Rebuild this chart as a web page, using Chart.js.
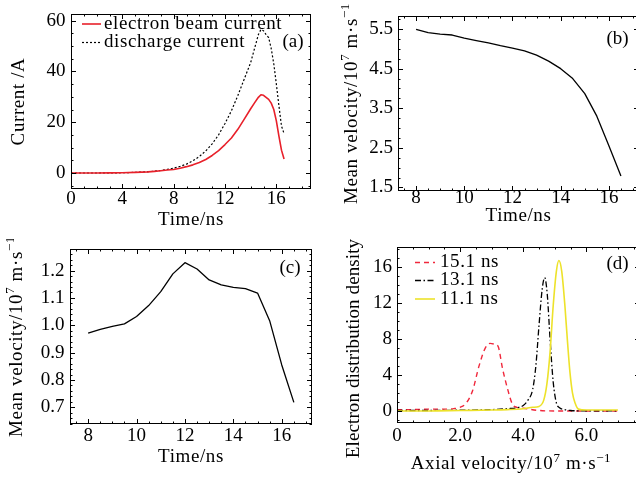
<!DOCTYPE html>
<html>
<head>
<meta charset="utf-8">
<script src="https://cdn.jsdelivr.net/npm/chart.js@4.4.1/dist/chart.umd.min.js"></script>
<style>
  html, body { margin: 0; padding: 0; background: #fff; overflow: hidden; }
  #fig { position: relative; width: 636px; height: 478px; }
  .quad { position: absolute; width: 318px; height: 239px; overflow: hidden; }
  .quad canvas { position: absolute; left: 0; top: 0; }
</style>
</head>
<body>
<div id="fig">
  <div class="quad" style="left:0;top:0"><canvas id="pa" width="318" height="239"></canvas></div>
  <div class="quad" style="left:318px;top:0"><canvas id="pb" width="330" height="239"></canvas></div>
  <div class="quad" style="left:0;top:239px"><canvas id="pc" width="318" height="239"></canvas></div>
  <div class="quad" style="left:318px;top:239px"><canvas id="pd" width="330" height="239"></canvas></div>
</div>
<script>
// (a) currents vs time
const timeA = [0,1,2,3,4,5,6,6.5,7,7.5,8,8.5,9,9.5,10,10.5,11,11.5,12,12.5,13,13.5,14,14.3,14.6,14.8,15,15.2,15.4,15.6,15.8,16,16.2,16.4,16.6];
const beamCurrent = [0,0,0,0.05,0.1,0.25,0.45,0.65,0.9,1.15,1.4,1.9,2.5,3.2,4.1,5.3,6.9,8.8,11.2,13.8,17.2,21.2,25.3,27.6,29.8,30.8,30.6,29.8,29.0,27.5,25.0,20.5,14.5,9.0,5.5];
const dischargeCurrent = [0,0,0,0.05,0.1,0.25,0.5,0.7,1.0,1.4,1.9,2.6,3.5,4.8,6.5,8.7,11.5,15.0,19.5,24.5,30.5,37.0,43.5,49.0,54.5,56.5,56.0,54.5,53.3,49.0,43.0,35.0,26.5,18.5,15.5];

// (b), (c) mean velocity vs time
const timeBC = [8,8.5,9,9.5,10,10.5,11,11.5,12,12.5,13,13.5,14,14.5,15,15.5,16,16.5];
const meanVelB = [5.49,5.41,5.37,5.35,5.27,5.21,5.15,5.08,5.02,4.95,4.84,4.69,4.5,4.25,3.87,3.3,2.55,1.79];
const meanVelC = [0.971,0.985,0.996,1.005,1.032,1.072,1.123,1.188,1.229,1.206,1.166,1.148,1.139,1.134,1.118,1.017,0.855,0.718];

// (d) axial velocity distributions
const vel151 = [0,0.5,1.0,1.5,1.8,2.0,2.2,2.4,2.6,2.8,2.95,3.1,3.2,3.35,3.5,3.65,3.8,4.0,4.5,5.0,5.5,6.0,6.5,7.0];
const dens151 = [0.15,0.15,0.2,0.2,0.25,0.4,0.9,2.3,5.0,7.0,7.5,7.4,7.2,4.6,2.5,0.8,0.4,0.3,0.05,0,0,0,0,0];
const vel131 = [0,1,2,3,3.5,3.8,4.0,4.15,4.3,4.4,4.5,4.6,4.68,4.76,4.85,4.95,5.05,5.15,5.3,5.5,6.0,7.0];
const dens131 = [0.05,0.05,0.08,0.15,0.25,0.35,0.6,1.2,2.4,5.0,9.5,13.5,14.8,13.0,8.0,3.2,0.9,0.35,0.15,0.05,0,0];
const vel111 = [0,1,2,3,3.5,4.0,4.3,4.5,4.65,4.75,4.85,4.95,5.05,5.13,5.22,5.32,5.4,5.48,5.56,5.64,5.75,6.0,7.0];
const dens111 = [0,0,0.05,0.1,0.15,0.25,0.4,0.5,1.2,3.0,6.5,11.7,15.5,16.7,15.5,11.7,7.8,4.3,2.0,0.9,0.2,0.1,0.1];

// tick values and labels
const ticksAx = [0,4,8,12,16], labelsAx = ['0','4','8','12','16'];
const ticksAy = [0,20,40,60], labelsAy = ['0','20','40','60'];
const ticksTime = [8,10,12,14,16], labelsTime = ['8','10','12','14','16'];
const ticksBy = [1.5,2.5,3.5,4.5,5.5], labelsBy = ['1.5','2.5','3.5','4.5','5.5'];
const ticksCy = [0.7,0.8,0.9,1.0,1.1,1.2], labelsCy = ['0.7','0.8','0.9','1.0','1.1','1.2'];
const ticksDx = [0,2,4,6], labelsDx = ['0','2.0','4.0','6.0'];
const ticksDy = [0,4,8,12,16], labelsDy = ['0','4','8','12','16'];

const SERIF = '"Liberation Serif", "Times New Roman", serif';
Chart.defaults.font.family = SERIF;
Chart.defaults.color = '#000';

const pts = (xs, ys) => xs.map((x, i) => ({x: x, y: ys[i]}));

// text with ^{...} superscripts, centred on (x, y) baseline
function drawRich(ctx, text, x, y, rot, spacing) {
  const parts = text.split(/\^\{([^}]*)\}/).map((t, i) => ({t: t, sup: i % 2 === 1})).filter(p => p.t);
  const fontOf = p => (p.sup ? '13px ' : '19px ') + SERIF;
  ctx.save();
  ctx.translate(x, y);
  ctx.rotate(rot);
  ctx.textAlign = 'left';
  ctx.textBaseline = 'alphabetic';
  ctx.fillStyle = '#000';
  ctx.letterSpacing = spacing + 'px';
  let w = 0;
  parts.forEach(p => { ctx.font = fontOf(p); p.w = ctx.measureText(p.t).width; w += p.w; });
  let cx = -w / 2;
  parts.forEach(p => { ctx.font = fontOf(p); ctx.fillText(p.t, cx, p.sup ? -7.5 : 0); cx += p.w; });
  ctx.restore();
}

function stepsOf(min, max, step) {
  const out = [];
  const start = Math.ceil(min / step - 1e-9);
  for (let i = start; i * step <= max + 1e-9; i++) out.push(i * step);
  return out;
}

// frame with inward ticks on all four sides, titles, tag and legend
const framePlugin = {
  id: 'frame',
  afterDatasetsDraw(chart, args, o) {
    const {ctx, chartArea: a, scales: {x, y}} = chart;
    ctx.save();
    ctx.strokeStyle = '#000';
    ctx.lineWidth = 1;
    ctx.setLineDash([]);
    ctx.strokeRect(a.left + 0.5, a.top + 0.5, a.right - a.left - 1, a.bottom - a.top - 1);

    ctx.beginPath();
    const isMajor = (v, list) => list.some(m => Math.abs(m - v) < 1e-6);
    stepsOf(x.min, x.max, o.xMinor).concat(o.xMajor).forEach(v => {
      const len = isMajor(v, o.xMajor) ? 5 : 2.5;
      const px = Math.round(x.getPixelForValue(v)) + 0.5;
      ctx.moveTo(px, a.bottom); ctx.lineTo(px, a.bottom - len);
      ctx.moveTo(px, a.top); ctx.lineTo(px, a.top + len);
    });
    stepsOf(y.min, y.max, o.yMinor).concat(o.yMajor).forEach(v => {
      const len = isMajor(v, o.yMajor) ? 5 : 2.5;
      const py = Math.round(y.getPixelForValue(v)) + 0.5;
      ctx.moveTo(a.left, py); ctx.lineTo(a.left + len, py);
      ctx.moveTo(a.right, py); ctx.lineTo(a.right - len, py);
    });
    ctx.stroke();

    ctx.fillStyle = '#000';
    ctx.font = '19px ' + SERIF;
    ctx.textBaseline = 'middle';
    ctx.textAlign = 'center';
    ctx.fillText(o.tag, o.tagX, o.tagY);

    if (o.legend) {
      chart.data.datasets.forEach((ds, i) => {
        const ly = o.legend.rows[i];
        ctx.beginPath();
        ctx.strokeStyle = ds.borderColor;
        ctx.lineWidth = ds.borderWidth;
        ctx.setLineDash(ds.borderDash || []);
        ctx.moveTo(o.legend.x0, ly);
        ctx.lineTo(o.legend.x1, ly);
        ctx.stroke();
        ctx.setLineDash([]);
        ctx.textAlign = 'left';
        ctx.letterSpacing = '0.6px';
        ctx.fillText(ds.label, o.legend.tx, ly);
        ctx.letterSpacing = '0px';
      });
    }

    const xc = o.xTitleX !== undefined ? o.xTitleX : (a.left + a.right) / 2;
    const yc = o.yTitleY !== undefined ? o.yTitleY : (a.top + a.bottom) / 2;
    drawRich(ctx, o.xTitle, xc, o.xTitleY, 0, 0.6);
    drawRich(ctx, o.yTitle, o.yTitleX, yc, -Math.PI / 2, o.ySpacing !== undefined ? o.ySpacing : 0.6);
    ctx.restore();
  }
};

function axis(min, max, values, labels, pad) {
  return {
    type: 'linear',
    min: min,
    max: max,
    grid: {display: false, drawTicks: false},
    border: {display: false},
    afterBuildTicks: s => { s.ticks = values.map(v => ({value: v})); },
    ticks: {
      color: '#000', padding: pad, autoSkip: false, maxRotation: 0,
      font: {family: SERIF, size: 19},
      callback: (v, i) => labels[i]
    }
  };
}

function panel(id, box, datasets, xAxis, yAxis, frame) {
  const canvas = document.getElementById(id);
  // fixed axis boxes so the plot frame lands where the reference has it
  xAxis.afterFit = s => { s.height = canvas.height - box.B; s.paddingLeft = 0; s.paddingRight = 0; };
  yAxis.afterFit = s => { s.width = box.L; s.paddingTop = 0; s.paddingBottom = 0; };
  new Chart(canvas, {
    type: 'line',
    data: {datasets: datasets},
    options: {
      responsive: false,
      animation: false,
      devicePixelRatio: 1,
      layout: {padding: {left: 0, top: box.T, right: canvas.width - box.R, bottom: 0}},
      elements: {point: {radius: 0}, line: {borderJoinStyle: 'round', borderCapStyle: 'butt'}},
      plugins: {legend: {display: false}, tooltip: {enabled: false}, frame: frame},
      scales: {x: xAxis, y: yAxis}
    },
    plugins: [framePlugin]
  });
}

const VEL_TITLE = 'Mean velocity/10^{7} m\u00b7s^{\u22121}';

panel('pa', {L: 71, T: 14, R: 311, B: 189}, [
  {label: 'electron beam current', data: pts(timeA, beamCurrent), borderColor: '#e8202a', borderWidth: 1.6, order: 0},
  {label: 'discharge current', data: pts(timeA, dischargeCurrent), borderColor: '#000', borderWidth: 1.2, borderDash: [2, 2], order: 1}
], axis(0, 18.7, ticksAx, labelsAx, -1), axis(-6.3, 62.6, ticksAy, labelsAy, 5.5), {
  xMajor: ticksAx, xMinor: 1, yMajor: ticksAy, yMinor: 5,
  tag: '(a)', tagX: 293, tagY: 42.5,
  legend: {x0: 82, x1: 101, tx: 104, rows: [24, 42.5]},
  xTitle: 'Time/ns', xTitleY: 225, yTitle: 'Current /A', yTitleX: 24
});

panel('pb', {L: 80, T: 16, R: 321, B: 191}, [
  {label: 'b', data: pts(timeBC, meanVelB), borderColor: '#000', borderWidth: 1.3}
], axis(7.25, 17.25, ticksTime, labelsTime, -4), axis(1.41, 5.83, ticksBy, labelsBy, 5), {
  xMajor: ticksTime, xMinor: 0.5, yMajor: ticksBy, yMinor: 0.25,
  tag: '(b)', tagX: 299.5, tagY: 39,
  xTitle: 'Time/ns', xTitleY: 221, yTitle: VEL_TITLE, yTitleX: 38.5
});

panel('pc', {L: 70, T: 10, R: 312, B: 185}, [
  {label: 'c', data: pts(timeBC, meanVelC), borderColor: '#000', borderWidth: 1.3}
], axis(7.25, 17.25, ticksTime, labelsTime, 1), axis(0.639, 1.279, ticksCy, labelsCy, 5.5), {
  xMajor: ticksTime, xMinor: 0.5, yMajor: ticksCy, yMinor: 0.02,
  tag: '(c)', tagX: 290, tagY: 29,
  xTitle: 'Time/ns', xTitleY: 223, yTitle: VEL_TITLE, yTitleX: 21.5
});

panel('pd', {L: 79, T: 8, R: 322, B: 184}, [
  {label: '15.1 ns', data: pts(vel151, dens151), borderColor: '#f0283c', borderWidth: 1.4, borderDash: [5, 4], cubicInterpolationMode: 'monotone', order: 2},
  {label: '13.1 ns', data: pts(vel131, dens131), borderColor: '#000', borderWidth: 1.3, borderDash: [6, 2.5, 1.5, 2.5], cubicInterpolationMode: 'monotone', order: 1},
  {label: '11.1 ns', data: pts(vel111, dens111), borderColor: '#ede22a', borderWidth: 1.6, cubicInterpolationMode: 'monotone', order: 0}
], axis(0, 7.7, ticksDx, labelsDx, 2), axis(-1.34, 18.2, ticksDy, labelsDy, 5), {
  xMajor: ticksDx, xMinor: 0.5, yMajor: ticksDy, yMinor: 1,
  tag: '(d)', tagX: 299.5, tagY: 25.5,
  legend: {x0: 97, x1: 117, tx: 122, rows: [23.5, 41.5, 60]},
  xTitle: 'Axial velocity/10^{7} m\u00b7s^{\u22121}', xTitleX: 193, xTitleY: 230,
  yTitle: 'Electron distribution density', yTitleX: 40.5, yTitleY: 109.5, ySpacing: 0.1
});
</script>
</body>
</html>
